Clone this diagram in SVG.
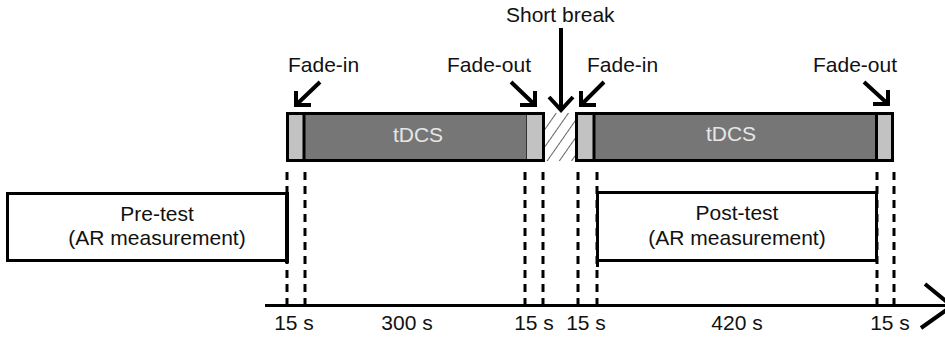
<svg xmlns="http://www.w3.org/2000/svg" width="945" height="337" viewBox="0 0 945 337">
  <style>
    text { font-family: "Liberation Sans", Arial, sans-serif; font-size: 21px; fill: #111; }
    .bar { fill: #767676; }
    .fade { fill: #c2c2c2; }
    .frame { fill: none; stroke: #000; stroke-width: 3; }
    .divider { stroke: #000; stroke-width: 3; }
    .label-in { fill: #e6e6e6; text-anchor: middle; }
    .mid { text-anchor: middle; }
    .guide { stroke: #000; stroke-width: 3; stroke-dasharray: 8 6; fill: none; }
    .arrow { stroke: #000; stroke-width: 4; fill: none; stroke-linecap: butt; stroke-linejoin: miter; }
    .box { fill: #fff; stroke: #000; stroke-width: 3; }
  </style>
  <defs>
    <pattern id="hatch" patternUnits="userSpaceOnUse" width="10" height="10" patternTransform="rotate(35)">
      <line x1="0" y1="0" x2="0" y2="10" stroke="#222" stroke-width="1.4"/>
    </pattern>
  </defs>

  <rect width="945" height="337" fill="#fff"/>

  <!-- dashed guides from the stimulation phases down to the time axis -->
  <g id="connectors">
    <line class="guide" x1="287" y1="172" x2="287" y2="305"/>
    <line class="guide" x1="305" y1="172" x2="305" y2="305"/>
    <line class="guide" x1="525" y1="172" x2="525" y2="305"/>
    <line class="guide" x1="543" y1="172" x2="543" y2="305"/>
    <line class="guide" x1="578" y1="172" x2="578" y2="305"/>
    <line class="guide" x1="597" y1="172" x2="597" y2="305"/>
    <line class="guide" x1="877" y1="172" x2="877" y2="305"/>
    <line class="guide" x1="894" y1="172" x2="894" y2="305"/>

    <!-- pointer arrows -->
    <path class="arrow" d="M320 82 L296 105 M296 91 L296 105 L311 105"/>
    <path class="arrow" d="M511 82 L535 105 M535 91 L535 105 L520 105"/>
    <path class="arrow" d="M561 28 L561 110 M549 97 L561 110 L573 97"/>
    <path class="arrow" d="M604 82 L581 105 M581 91 L581 105 L596 105"/>
    <path class="arrow" d="M864 82 L888 104 M888 90 L888 104 L873 104"/>

    <!-- time axis -->
    <line x1="265" y1="305.5" x2="946" y2="305.5" stroke="#000" stroke-width="3"/>
    <path class="arrow" d="M925 284 L952 306 L921 328" stroke-width="3.5"/>
  </g>

  <g id="tdcs-1">
    <rect class="bar" x="287" y="113" width="257" height="48"/>
    <rect class="fade" x="288" y="114" width="15" height="46"/>
    <rect class="fade" x="527" y="114" width="16" height="46"/>
    <line class="divider" x1="304" y1="113" x2="304" y2="161"/>
    <line x1="526.5" y1="113" x2="526.5" y2="161" stroke="#333" stroke-width="1"/>
    <rect class="frame" x="287.5" y="113.5" width="256" height="47"/>
    <text class="label-in" x="418" y="142">tDCS</text>
  </g>

  <g id="short-break">
    <rect x="545" y="113" width="30" height="48" fill="url(#hatch)"/>
    <text x="506" y="22">Short break</text>
  </g>

  <g id="tdcs-2">
    <rect class="bar" x="576" y="113" width="317" height="48"/>
    <rect class="fade" x="577" y="114" width="16" height="46"/>
    <rect class="fade" x="877" y="114" width="15" height="46"/>
    <line class="divider" x1="594" y1="113" x2="594" y2="161"/>
    <line class="divider" x1="876.5" y1="113" x2="876.5" y2="161"/>
    <rect class="frame" x="576.5" y="113.5" width="316" height="47"/>
    <text class="label-in" x="731" y="141">tDCS</text>
  </g>

  <g id="fade-labels">
    <text x="288" y="72">Fade-in</text>
    <text x="447" y="72">Fade-out</text>
    <text x="587" y="72">Fade-in</text>
    <text x="813" y="72">Fade-out</text>
  </g>

  <g id="pre-test">
    <rect class="box" x="7.5" y="193.5" width="279" height="67"/>
    <line x1="287" y1="192" x2="287" y2="263" stroke="#000" stroke-width="4"/>
    <text class="mid" x="157" y="221">Pre-test</text>
    <text class="mid" x="157" y="245">(AR measurement)</text>
  </g>

  <g id="post-test">
    <rect class="box" x="597.5" y="192.5" width="279" height="68"/>
    <line x1="597.5" y1="192" x2="597.5" y2="267" stroke="#000" stroke-width="3"/>
    <text class="mid" x="737" y="220">Post-test</text>
    <text class="mid" x="737" y="245">(AR measurement)</text>
  </g>

  <g id="durations">
    <text class="mid" x="294" y="330">15 s</text>
    <text class="mid" x="407" y="330">300 s</text>
    <text class="mid" x="534" y="330">15 s</text>
    <text class="mid" x="586" y="330">15 s</text>
    <text class="mid" x="737" y="330">420 s</text>
    <text class="mid" x="890" y="330">15 s</text>
  </g>
</svg>
